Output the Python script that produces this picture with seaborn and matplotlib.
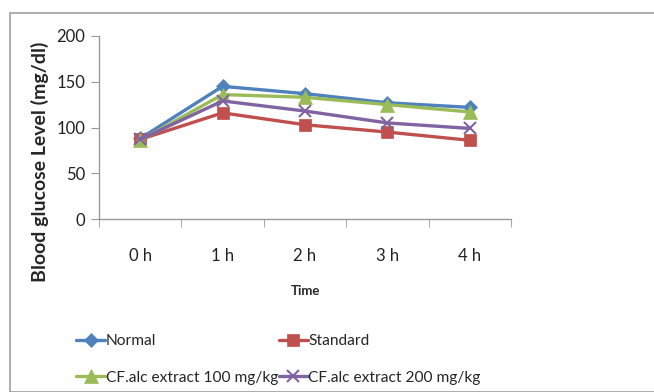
import matplotlib
matplotlib.use("Agg")
import matplotlib.pyplot as plt
import seaborn as sns
import pandas as pd
from matplotlib.patches import Rectangle
from matplotlib.ticker import FixedLocator

times = ["0 h", "1 h", "2 h", "3 h", "4 h"]
normal = [88, 145, 137, 127, 122]
standard = [87, 116, 103, 95, 86]
cf100 = [86, 136, 133, 125, 117]
cf200 = [87, 129, 118, 105, 99]
series_names = ["Normal", "Standard", "CF.alc extract 100 mg/kg", "CF.alc extract 200 mg/kg"]
series_vals = [normal, standard, cf100, cf200]
colors = ["#4F81BD", "#C0504D", "#9BBB59", "#8064A2"]
markers = ["D", "s", "^", "x"]
msizes = [7, 9, 10, 9]

sns.set_style("white")
plt.rcParams['font.family'] = ['Lato', 'DejaVu Sans']

rows = []
for name, vals in zip(series_names, series_vals):
    for i, v in enumerate(vals):
        rows.append({"x": i, "val": v, "series": name})
df = pd.DataFrame(rows)

fig = plt.figure(figsize=(6.54, 3.92), dpi=100)
ax = fig.add_axes([99/654, 1-219/392, (511-99)/654, (219-36)/392])

for name, c, m, ms in zip(series_names, colors, markers, msizes):
    sub = df[df.series == name]
    sns.lineplot(data=sub, x="x", y="val", ax=ax, color=c, marker=m, markersize=ms,
                 linewidth=2.4, label=name, markeredgecolor=c,
                 markeredgewidth=1.5 if m == "x" else 0.5)

ax.set_xlim(-0.5, 4.5)
ax.set_ylim(0, 200)
ax.set_yticks([0, 50, 100, 150, 200])
ax.set_xticks(range(5))
ax.set_xticklabels(times)
ax.xaxis.set_minor_locator(FixedLocator([-0.5, 0.5, 1.5, 2.5, 3.5, 4.5]))
ax.tick_params(axis='x', which='major', length=0, pad=21, labelsize=12, colors='#222222')
ax.tick_params(axis='x', which='minor', length=6, color='#999999', direction='out', bottom=True)
ax.tick_params(axis='y', which='major', length=6, color='#999999', direction='out', left=True,
               labelsize=12, colors='#222222', pad=4)
for s in ["top", "right"]:
    ax.spines[s].set_visible(False)
for s in ["left", "bottom"]:
    ax.spines[s].set_color('#999999')
    ax.spines[s].set_linewidth(1)

ax.set_xlabel("Time", fontsize=9.5, fontweight='bold', labelpad=15)
ax.set_ylabel("Blood glucose Level (mg/dl)", fontsize=14, fontweight='bold',
              va='center', ha='center')
ax.yaxis.set_label_coords((40 - 99) / 412, (219 - 162) / 183)

h, l = ax.get_legend_handles_labels()
ax.get_legend().remove()
order = [0, 2, 1, 3]
fig.legend([h[i] for i in order], [l[i] for i in order], loc='upper left',
           bbox_to_anchor=(70/654, 1-328/392), ncol=2,
           frameon=False, fontsize=11.2, handlelength=1.85, handletextpad=0.05,
           columnspacing=0.05, labelspacing=1.45, borderaxespad=0)

fig.patches.append(Rectangle((10/654, 0), 1.0, 1-13/392, transform=fig.transFigure,
                             fill=False, edgecolor='#A0A0A0', linewidth=1.2))

fig.savefig("out.png", dpi=100)
